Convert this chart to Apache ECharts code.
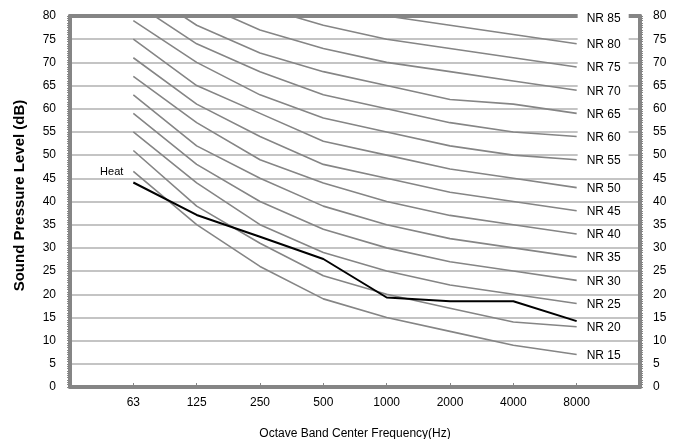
<!DOCTYPE html>
<html>
<head>
<meta charset="utf-8">
<script src="https://cdn.jsdelivr.net/npm/echarts@6/dist/echarts.min.js"></script>
<style>
html,body{margin:0;padding:0;background:#fff;}
#chart{width:681px;height:439px;}
</style>
</head>
<body>
<div id="chart"></div>
<script>
// Octave band centre frequencies
var freqLabels = ['63', '125', '250', '500', '1000', '2000', '4000', '8000'];
var yTicks = [0, 5, 10, 15, 20, 25, 30, 35, 40, 45, 50, 55, 60, 65, 70, 75, 80];

// NR curves (dB)
var nr15 = [46.5, 35, 26, 19, 15, 12, 9, 7];
var nr20 = [51, 39, 31, 24, 20, 17, 14, 13];
var nr25 = [55, 44, 35, 29, 25, 22, 20, 18];
var nr30 = [59, 48, 40, 34, 30, 27, 25, 23];
var nr35 = [63, 52, 45, 39, 35, 32, 30, 28];
var nr40 = [67, 57, 49, 44, 40, 37, 35, 33];
var nr45 = [71, 61, 54, 48, 45, 42, 40, 38];
var nr50 = [75, 65, 59, 53, 50, 47, 45, 43];
var nr55 = [79, 70, 63, 58, 55, 52, 50, 49];
var nr60 = [83, 74, 68, 63, 60, 57, 55, 54];
var nr65 = [87, 78, 72, 68, 65, 62, 61, 59];
var nr70 = [91, 83, 77, 73, 70, 68, 66, 64];
var nr75 = [95, 87, 82, 78, 75, 73, 71, 69];
var nr80 = [99, 91, 86, 83, 80, 78, 76, 74];
var nr85 = [103, 96, 91, 88, 85, 83, 81, 80];
// Measured heat spectrum
var heat = [44.1, 37.1, 32.4, 27.6, 19.3, 18.5, 18.5, 14.2];

var nrNames = ['NR 15','NR 20','NR 25','NR 30','NR 35','NR 40','NR 45','NR 50','NR 55','NR 60','NR 65','NR 70','NR 75','NR 80','NR 85'];
var nrData = [nr15, nr20, nr25, nr30, nr35, nr40, nr45, nr50, nr55, nr60, nr65, nr70, nr75, nr80, nr85];

function toPoints(arr) {
  return arr.map(function (v, i) { return [i + 1, v]; });
}
var catPositions = freqLabels.map(function (f, i) { return i + 1; });

var FONT = 'Liberation Sans, Arial, sans-serif';
var series = nrData.map(function (arr, k) {
  return {
    name: nrNames[k],
    type: 'line',
    data: toPoints(arr),
    showSymbol: false,
    symbol: 'none',
    clip: true,
    z: 2,
    lineStyle: { color: '#858585', width: 1.6 },
    endLabel: {
      show: true,
      formatter: nrNames[k],
      color: '#000',
      fontFamily: FONT,
      fontSize: 12,
      backgroundColor: '#fff',
      padding: [1, 8, 1, 9],
      distance: 1,
      offset: k === 14 ? [0, 3] : [0, 1]
    },
    emphasis: { disabled: true }
  };
});

var heatPoints = toPoints(heat).map(function (p, i) {
  if (i === 0) {
    return { value: p, label: { show: true, formatter: 'Heat', position: 'left', distance: 10, offset: [0, -11], color: '#000', fontFamily: FONT, fontSize: 11 } };
  }
  return { value: p };
});
series.push({
  name: 'Heat',
  type: 'line',
  data: heatPoints,
  showSymbol: true,
  symbol: 'circle',
  symbolSize: 0,
  z: 3,
  lineStyle: { color: '#000', width: 2 },
  itemStyle: { color: '#000' },
  label: { show: false },
  emphasis: { disabled: true }
});

var chart = echarts.init(document.getElementById('chart'), null, { renderer: 'canvas' });
chart.setOption({
  animation: false,
  backgroundColor: '#fff',
  textStyle: { fontFamily: FONT },
  grid: { left: 70, right: 41, top: 16, bottom: 52, containLabel: false, outerBoundsMode: 'none' },
  xAxis: [{
    type: 'value',
    min: 0, max: 9, interval: 1,
    name: 'Octave Band Center Frequency(Hz)',
    nameLocation: 'middle',
    nameGap: 41,
    nameTextStyle: { color: '#000', fontSize: 12, fontFamily: FONT },
    axisLine: { show: true, onZero: false, lineStyle: { color: '#858585', width: 4 } },
    axisTick: { show: true, inside: true, length: 4, lineStyle: { color: '#858585', width: 1 }, customValues: catPositions },
    axisLabel: {
      color: '#000', fontSize: 12, fontFamily: FONT, margin: 10,
      customValues: catPositions,
      formatter: function (v) { return freqLabels[v - 1] || ''; }
    },
    splitLine: { show: false }
  }, {
    type: 'value',
    position: 'top',
    min: 0, max: 9,
    axisLine: { show: true, onZero: false, lineStyle: { color: '#858585', width: 4 } },
    axisTick: { show: false },
    axisLabel: { show: false },
    splitLine: { show: false }
  }],
  yAxis: [{
    type: 'value',
    position: 'left',
    min: 0, max: 80, interval: 5,
    name: 'Sound Pressure Level (dB)',
    nameLocation: 'middle',
    nameGap: 43,
    nameRotate: 90,
    nameTextStyle: { color: '#000', fontSize: 15, fontWeight: 'bold', fontFamily: FONT, padding: [0, 0, 0, 12] },
    axisLine: { show: true, onZero: false, lineStyle: { color: '#858585', width: 4 } },
    axisTick: { show: true, inside: false, length: 3, lineStyle: { color: '#858585', width: 1 } },
    minorTick: { show: true, splitNumber: 10, length: 3, lineStyle: { color: '#858585', width: 1 } },
    axisLabel: { color: '#000', fontSize: 12, fontFamily: FONT, margin: 14,
      formatter: function (v) { return yTicks.indexOf(v) >= 0 ? String(v) : ''; } },
    splitLine: { show: true, lineStyle: { color: '#c4c4c4', width: 2 } }
  }, {
    type: 'value',
    position: 'right',
    min: 0, max: 80, interval: 5,
    axisLine: { show: true, onZero: false, lineStyle: { color: '#858585', width: 4 } },
    axisTick: { show: true, inside: false, length: 3, lineStyle: { color: '#858585', width: 1 } },
    minorTick: { show: true, splitNumber: 10, length: 3, lineStyle: { color: '#858585', width: 1 } },
    axisLabel: { color: '#000', fontSize: 12, fontFamily: FONT, margin: 13,
      formatter: function (v) { return yTicks.indexOf(v) >= 0 ? String(v) : ''; } },
    splitLine: { show: false }
  }],
  series: series
});
</script>
</body>
</html>
